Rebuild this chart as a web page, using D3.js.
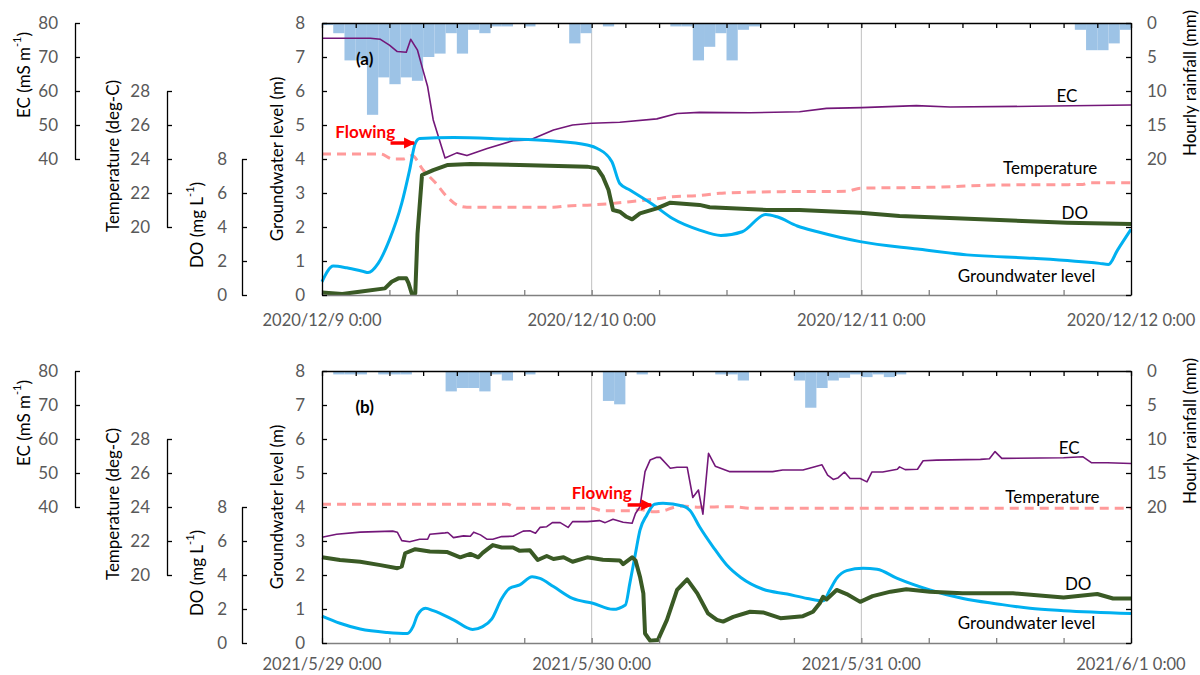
<!DOCTYPE html>
<html>
<head>
<meta charset="utf-8">
<script src="https://cdn.jsdelivr.net/npm/d3@7"></script>
<style>
  body { margin: 0; background: #fff; }
  svg { font-family: Lato, "Open Sans", sans-serif; }
</style>
</head>
<body>
<div id="chart"></div>
<script>
// Data: time in hours from the first 0:00 of each panel, values in native units

var datesA = ['2020/12/9 0:00', '2020/12/10 0:00', '2020/12/11 0:00', '2020/12/12 0:00'];
var datesB = ['2021/5/29 0:00', '2021/5/30 0:00', '2021/5/31 0:00', '2021/6/1 0:00'];

// hourly rainfall (mm), one value per hour
var rainA = [0.3, 1.5, 5.5, 5.5, 13.5, 8, 9, 8, 8.5, 5, 4.5, 1.5, 4.5, 1, 1.5, 0.5, 0.5, 0, 0.5, 0, 0, 0, 3, 1.5,
             0, 0.5, 0, 0, 0, 0, 0, 0.5, 0.5, 5.5, 3.5, 1.5, 5.5, 1, 0.5, 0, 0, 0, 0, 0, 0, 0, 0, 0,
             0, 0, 0, 0, 0, 0, 0, 0, 0, 0, 0, 0, 0, 0, 0, 0, 0, 0, 0, 1, 4, 4, 3, 1];
var rainB = [0, 0.5, 0.5, 0.5, 0, 0.5, 0.5, 0.5, 0, 0, 0, 3, 2.5, 2.5, 3, 0.5, 1.4, 0, 0.5, 0, 0, 0, 0, 0,
             0, 4.4, 4.9, 0, 0.5, 0, 0, 0, 0, 0, 0, 0.5, 0.5, 1.4, 0, 0, 0, 0, 1.4, 5.4, 2.5, 1.4, 1.0, 0.5,
             0.9, 0.5, 0.9, 0.5, 0, 0, 0, 0, 0, 0, 0, 0, 0, 0, 0, 0, 0, 0, 0, 0, 0, 0, 0, 0];

// EC (mS/m)
var ecA = [[0, 75.5], [4.3, 75.5], [5.2, 75.2], [6.0, 73.5], [6.7, 71.6], [7.5, 71.4], [7.9, 75.2], [8.5, 72],
           [9.0, 66], [9.4, 61.3], [9.9, 51.5], [10.95, 40.3], [12, 41.8], [12.9, 41], [14.7, 43.1], [17, 45.4],
           [18.5, 45.6], [20.6, 48.5], [22.3, 50], [24, 50.5], [26.5, 50.8], [29.8, 51.8], [31.6, 53.4],
           [33.6, 53.7], [38.1, 53.6], [42.5, 53.9], [44.9, 54.9], [48, 55.1], [52.9, 55.7], [55.9, 55.3],
           [63.3, 55.5], [72, 55.9]];
var ecB = [[0, 31.1], [1.3, 32], [3.4, 32.6], [6.3, 32.9], [6.7, 32.6], [7.1, 30.1], [7.8, 29.8], [8.7, 30.5],
           [9.4, 30.5], [9.6, 32], [10.95, 32.4], [11.2, 32.5], [11.7, 31], [12.6, 31.5], [13.2, 31.4],
           [13.5, 32.6], [14.1, 31.8], [14.7, 30.5], [15.2, 30.5], [16, 31.3], [17, 31.4], [17.9, 32.9],
           [18.5, 33], [19, 32.3], [19.4, 34], [20, 34.2], [20.5, 35.4], [21.2, 35.4], [21.9, 34], [22.3, 35.7],
           [23.6, 35.7], [24.7, 36], [25.2, 35.4], [25.9, 36.4], [26.8, 35.5], [27.6, 35.2], [27.9, 38.1],
           [28.3, 40.1], [28.75, 50.4], [29.2, 53.8], [29.8, 54.6], [30.1, 54.6], [31, 51.4], [31.6, 51.7],
           [32.5, 51.7], [33, 42.8], [33.5, 45], [33.9, 37.9], [34.4, 55.8], [35, 52], [36.3, 50.4],
           [40.1, 50.4], [41, 50.9], [42.8, 50.9], [43.7, 51.7], [44.5, 52.4], [45, 49.4], [45.5, 48.1],
           [45.9, 48.5], [46.5, 50.3], [47, 48.4], [47.9, 48.4], [48.5, 47.4], [48.95, 50.3], [49.9, 50.3],
           [51.2, 51.1], [51.4, 51.8], [51.9, 51], [53, 51.1], [53.5, 53.6], [54.7, 53.8], [58.6, 54],
           [59.4, 54.2], [59.9, 56.3], [60.5, 54.3], [66, 54.5], [67.7, 54.8], [68.5, 53], [69.9, 53], [72, 52.8]];

// water temperature (deg-C)
var tempA = [[0, 24.3], [5.2, 24.3], [6.3, 24.0], [7.2, 24.0], [8.0, 24.2], [9.0, 23.35], [10.1, 22.6],
             [11.1, 21.8], [12, 21.3], [12.9, 21.16], [20.6, 21.16], [21.8, 21.24], [24, 21.3], [25.9, 21.39],
             [27.4, 21.49], [29.5, 21.63], [31.2, 21.78], [33.6, 21.85], [35.4, 21.98], [36, 22.0], [41, 22.08],
             [46.7, 22.1], [47.9, 22.28], [54.4, 22.34], [60.3, 22.47], [67.7, 22.5], [68.3, 22.6], [72, 22.6]];
var tempB = [[0, 24.16], [16.5, 24.16], [17.35, 23.92], [24, 23.92], [25, 23.78], [27.4, 23.78], [28.3, 23.85],
             [29.5, 23.72], [30.4, 23.78], [31.2, 23.96], [32.1, 24.06], [33.4, 23.99], [36.3, 24.02],
             [38.4, 23.92], [72, 23.92]];

// groundwater level (m)
var gwA = [[0, 0.39], [1.0, 0.85], [2.2, 0.8], [3.7, 0.69], [4.1, 0.66], [5.0, 0.93], [6.0, 1.62], [7.1, 2.7],
           [7.8, 3.68], [8.3, 4.46], [8.7, 4.6], [11.7, 4.63], [16.1, 4.59], [20.6, 4.53], [23.6, 4.41],
           [24.5, 4.31], [25.8, 3.92], [26.5, 3.28], [27.4, 3.09], [29.5, 2.65], [31.2, 2.25], [33.6, 1.91],
           [35.5, 1.75], [37.4, 1.86], [39.5, 2.37], [40.5, 2.3], [42.3, 2.03], [44.1, 1.86], [47.9, 1.57],
           [53, 1.35], [57.4, 1.18], [63.3, 1.08], [69.2, 0.93], [70, 0.9], [70.8, 1.32], [72, 1.93]];
var gwB = [[0, 0.79], [1.6, 0.58], [3.4, 0.41], [5.8, 0.31], [7.6, 0.28], [8.1, 0.48], [8.5, 0.82], [9.2, 1.02],
           [9.9, 0.95], [11.7, 0.68], [13.4, 0.4], [14.3, 0.48], [15.1, 0.7], [16, 1.31], [16.7, 1.61],
           [17.6, 1.71], [18.7, 1.95], [19.4, 1.9], [20.6, 1.66], [22.3, 1.31], [24.1, 1.17], [25.9, 0.99],
           [27, 1.12], [27.4, 1.76], [27.9, 2.64], [28.3, 3.32], [28.9, 3.76], [29.6, 4.08], [30.35, 4.11],
           [32.1, 4.03], [32.75, 3.9], [33.6, 3.42], [34.8, 2.83], [36, 2.3], [37.3, 1.92], [39.25, 1.58],
           [41.4, 1.44], [43.2, 1.31], [44.6, 1.24], [45.2, 1.56], [45.8, 1.9], [46.7, 2.13], [48.15, 2.2],
           [49.4, 2.17], [51.2, 1.9], [54.1, 1.56], [57.05, 1.31], [60.1, 1.15], [63, 1.02], [66, 0.95], [72, 0.87]];

// dissolved oxygen (mg/L)
var doA = [[0, 0.14], [1.8, 0.06], [3.5, 0.2], [5.6, 0.39], [6.2, 0.78], [6.8, 0.98], [7.5, 0.98], [7.7, 0.7],
           [8.0, 0.06], [8.3, 0.1], [8.5, 3.6], [8.9, 7.06], [9.9, 7.35], [11.2, 7.65], [13.2, 7.7],
           [17.6, 7.65], [23.6, 7.55], [24.5, 7.45], [25.0, 6.96], [25.5, 6.18], [25.9, 5.0], [26.5, 4.9],
           [27.1, 4.6], [27.6, 4.45], [28.3, 4.8], [29.8, 5.1], [31, 5.43], [33.6, 5.3], [34.5, 5.16],
           [39.6, 5.0], [42.5, 5.0], [47.9, 4.84], [51.4, 4.65], [60.3, 4.41], [66.3, 4.25], [72, 4.18]];
var doB = [[0, 5.04], [1.6, 4.88], [3.4, 4.78], [5.2, 4.58], [6.7, 4.4], [7.1, 4.5], [7.4, 5.28], [8.3, 5.52],
           [9.6, 5.38], [11.1, 5.36], [12.3, 5.04], [13.2, 5.24], [13.9, 5.04], [14.3, 5.3], [15.2, 5.76],
           [16, 5.62], [17, 5.62], [17.6, 5.42], [18.5, 5.46], [19.2, 4.88], [20, 5.12], [20.6, 4.94],
           [21.5, 5.04], [22.3, 4.78], [23.6, 5.04], [25, 4.9], [26.5, 4.86], [26.8, 4.64], [27.6, 5.04],
           [27.9, 4.86], [28.3, 3.9], [28.6, 2.92], [28.75, 0.56], [29.2, 0.14], [29.9, 0.18], [30.7, 1.36],
           [31.6, 3.12], [32.5, 3.74], [33.4, 2.92], [34.35, 1.74], [35.15, 1.36], [35.7, 1.26], [36.6, 1.54],
           [38.1, 1.84], [39.25, 1.8], [40.8, 1.46], [42.8, 1.58], [43.7, 1.84], [44.3, 2.34], [44.6, 2.72],
           [44.9, 2.56], [45.8, 3.12], [46.7, 2.88], [47.9, 2.42], [49, 2.76], [50.6, 3.02], [52, 3.16],
           [54.1, 3.02], [57, 2.92], [61.5, 2.92], [66, 2.68], [69, 2.88], [70.4, 2.62], [72, 2.62]];

// ---- drawing ----
var width = 1200, height = 675;
var left = 322, right = 1131;
var tickColor = '#595959';
var fontSize = 17;

var svg = d3.select('#chart').append('svg')
  .attr('width', width)
  .attr('height', height);

var defs = svg.append('defs');
defs.append('marker')
  .attr('id', 'redArrow')
  .attr('viewBox', '0 0 10 10')
  .attr('refX', 9).attr('refY', 5)
  .attr('markerWidth', 3.2).attr('markerHeight', 3.2)
  .attr('orient', 'auto')
  .append('path').attr('d', 'M0,0 L10,5 L0,10 z').attr('fill', '#ff0000');

var panels = [
  { top: 23, bottom: 295, dateGap: 25, tag: '(a)', dates: datesA, rain: rainA, ec: ecA, temp: tempA, gw: gwA, dox: doA,
    flowText: [3.85, 4.82], flowArrow: [6.1, 8.2, 4.47],
    labels: [['EC', 66.3, 5.88], ['Temperature', 64.8, 3.74], ['DO', 67, 2.44], ['Groundwater level', 62.7, 0.56]] },
  { top: 371, bottom: 643, dateGap: 21, tag: '(b)', dates: datesB, rain: rainB, ec: ecB, temp: tempB, gw: gwB, dox: doB,
    flowText: [24.9, 4.44], flowArrow: [27.2, 29.3, 4.06],
    labels: [['EC', 66.5, 5.76], ['Temperature', 65, 4.32], ['DO', 67.3, 1.76], ['Groundwater level', 62.7, 0.59]] }
];

function styleAxis(g, lineColor, textColor) {
  g.selectAll('path').attr('stroke', lineColor).attr('stroke-width', 1.3);
  g.selectAll('line').attr('stroke', lineColor).attr('stroke-width', 1.3);
  g.selectAll('text').attr('fill', textColor).attr('font-size', fontSize)
    .attr('font-family', 'Lato, "Open Sans", sans-serif');
}

function vTitle(g, xPos, yPos, parts) {
  var t = g.append('text')
    .attr('transform', 'translate(' + xPos + ',' + yPos + ') rotate(-90)')
    .attr('text-anchor', 'middle')
    .attr('dominant-baseline', 'central')
    .attr('font-size', fontSize)
    .attr('fill', '#000');
  parts.forEach(function(p) {
    if (p.sup) {
      t.append('tspan').attr('baseline-shift', 'super').attr('font-size', 11).text(p.sup);
    } else {
      t.append('tspan').text(p.text);
    }
  });
}

panels.forEach(function(p) {
  var g = svg.append('g');
  var x = d3.scaleLinear().domain([0, 72]).range([left, right]);
  var yGW = d3.scaleLinear().domain([0, 8]).range([p.bottom, p.top]);
  var yEC = d3.scaleLinear().domain([40, 80]).range([yGW(4), yGW(8)]);
  var yT = d3.scaleLinear().domain([20, 28]).range([yGW(2), yGW(6)]);
  var yDO = d3.scaleLinear().domain([0, 8]).range([yGW(0), yGW(4)]);
  var yRain = d3.scaleLinear().domain([0, 40]).range([p.top, p.bottom]);

  // day gridlines
  g.selectAll('.grid')
    .data([24, 48])
    .enter()
    .append('line')
    .attr('x1', function(d) { return x(d); })
    .attr('x2', function(d) { return x(d); })
    .attr('y1', p.top).attr('y2', p.bottom)
    .attr('stroke', '#c0c0c0').attr('stroke-width', 1);

  // rainfall bars hanging from the top
  g.selectAll('.rain')
    .data(p.rain)
    .enter()
    .append('rect')
    .attr('x', function(d, i) { return x(i); })
    .attr('y', yRain(0))
    .attr('width', function(d, i) { return x(i + 1) - x(i); })
    .attr('height', function(d) { return yRain(d) - yRain(0); })
    .attr('fill', '#9dc3e6');

  // series
  var lineTemp = d3.line().x(function(d) { return x(d[0]); }).y(function(d) { return yT(d[1]); }).curve(d3.curveMonotoneX);
  var lineEC = d3.line().x(function(d) { return x(d[0]); }).y(function(d) { return yEC(d[1]); });
  var lineGW = d3.line().x(function(d) { return x(d[0]); }).y(function(d) { return yGW(d[1]); }).curve(d3.curveMonotoneX);
  var lineDO = d3.line().x(function(d) { return x(d[0]); }).y(function(d) { return yDO(d[1]); });

  g.append('path').attr('d', lineTemp(p.temp)).attr('fill', 'none')
    .attr('stroke', '#ff9a9a').attr('stroke-width', 3).attr('stroke-dasharray', '9,6');
  g.append('path').attr('d', lineEC(p.ec)).attr('fill', 'none')
    .attr('stroke', '#731779').attr('stroke-width', 1.6).attr('stroke-linejoin', 'round');
  g.append('path').attr('d', lineGW(p.gw)).attr('fill', 'none')
    .attr('stroke', '#00b0f0').attr('stroke-width', 3).attr('stroke-linejoin', 'round');
  g.append('path').attr('d', lineDO(p.dox)).attr('fill', 'none')
    .attr('stroke', '#3a5a25').attr('stroke-width', 4).attr('stroke-linejoin', 'round');

  // axes around the plot
  var bottomAxis = g.append('g').attr('transform', 'translate(0,' + p.bottom + ')')
    .call(d3.axisBottom(x).tickValues(d3.range(0, 73, 6)).tickSize(-5).tickSizeOuter(0).tickFormat(''));
  styleAxis(bottomAxis, '#808080', tickColor);

  var topAxis = g.append('g').attr('transform', 'translate(0,' + p.top + ')')
    .call(d3.axisTop(x).tickValues(d3.range(0, 73, 3)).tickSize(-5).tickSizeOuter(0).tickFormat(''));
  styleAxis(topAxis, '#000', tickColor);

  var gwAxis = g.append('g').attr('transform', 'translate(' + left + ',0)')
    .call(d3.axisLeft(yGW).tickValues(d3.range(0, 9)).tickSize(-5).tickSizeOuter(0).tickPadding(17));
  styleAxis(gwAxis, '#000', tickColor);

  var rainAxis = g.append('g').attr('transform', 'translate(' + right + ',0)')
    .call(d3.axisRight(yRain).tickValues(d3.range(0, 41, 5)).tickSize(-5).tickSizeOuter(0).tickPadding(16)
      .tickFormat(function(d) { return d <= 20 ? d : ''; }));
  styleAxis(rainAxis, '#000', tickColor);

  // floating axes on the left
  var ecAxis = g.append('g').attr('transform', 'translate(75,0)')
    .call(d3.axisLeft(yEC).tickValues([40, 50, 60, 70, 80]).tickSize(-5).tickSizeOuter(0).tickPadding(17));
  styleAxis(ecAxis, '#000', tickColor);
  var tAxis = g.append('g').attr('transform', 'translate(167,0)')
    .call(d3.axisLeft(yT).tickValues([20, 22, 24, 26, 28]).tickSize(-5).tickSizeOuter(0).tickPadding(17));
  styleAxis(tAxis, '#000', tickColor);
  var doAxis = g.append('g').attr('transform', 'translate(242,0)')
    .call(d3.axisLeft(yDO).tickValues([0, 2, 4, 6, 8]).tickSize(-5).tickSizeOuter(0).tickPadding(15));
  styleAxis(doAxis, '#000', tickColor);

  // date labels
  g.selectAll('.date')
    .data(p.dates)
    .enter()
    .append('text')
    .attr('x', function(d, i) { return x(i * 24); })
    .attr('y', p.bottom + p.dateGap)
    .attr('text-anchor', 'middle')
    .attr('dominant-baseline', 'central')
    .attr('font-size', 16.5)
    .attr('fill', tickColor)
    .text(function(d) { return d; });

  // axis titles
  vTitle(g, 23, p.top - 23 + 75, [{ text: 'EC (mS m' }, { sup: '-1' }, { text: ')' }]);
  vTitle(g, 112, p.top - 23 + 156, [{ text: 'Temperature (deg-C)' }]);
  vTitle(g, 196, p.top - 23 + 225, [{ text: 'DO (mg L' }, { sup: '-1' }, { text: ')' }]);
  vTitle(g, 276, p.top - 23 + 159, [{ text: 'Groundwater level (m)' }]);
  vTitle(g, 1189, p.top - 23 + 83, [{ text: 'Hourly rainfall (mm)' }]);

  // panel tag
  g.append('text')
    .attr('x', x(3.8)).attr('y', yGW(6.95))
    .attr('text-anchor', 'middle').attr('dominant-baseline', 'central')
    .attr('font-size', fontSize).attr('font-weight', 'bold')
    .text(p.tag);

  // series labels
  g.selectAll('.lab')
    .data(p.labels)
    .enter()
    .append('text')
    .attr('x', function(d) { return x(d[1]); })
    .attr('y', function(d) { return yGW(d[2]); })
    .attr('text-anchor', 'middle').attr('dominant-baseline', 'central')
    .attr('font-size', fontSize).attr('fill', '#000')
    .text(function(d) { return d[0]; });

  // "Flowing" annotation
  g.append('text')
    .attr('x', x(p.flowText[0])).attr('y', yGW(p.flowText[1]))
    .attr('text-anchor', 'middle').attr('dominant-baseline', 'central')
    .attr('font-size', fontSize).attr('font-weight', 'bold').attr('fill', '#ff0000')
    .text('Flowing');
  g.append('line')
    .attr('x1', x(p.flowArrow[0])).attr('x2', x(p.flowArrow[1]))
    .attr('y1', yGW(p.flowArrow[2])).attr('y2', yGW(p.flowArrow[2]))
    .attr('stroke', '#ff0000').attr('stroke-width', 3.5)
    .attr('marker-end', 'url(#redArrow)');
});
</script>
</body>
</html>
